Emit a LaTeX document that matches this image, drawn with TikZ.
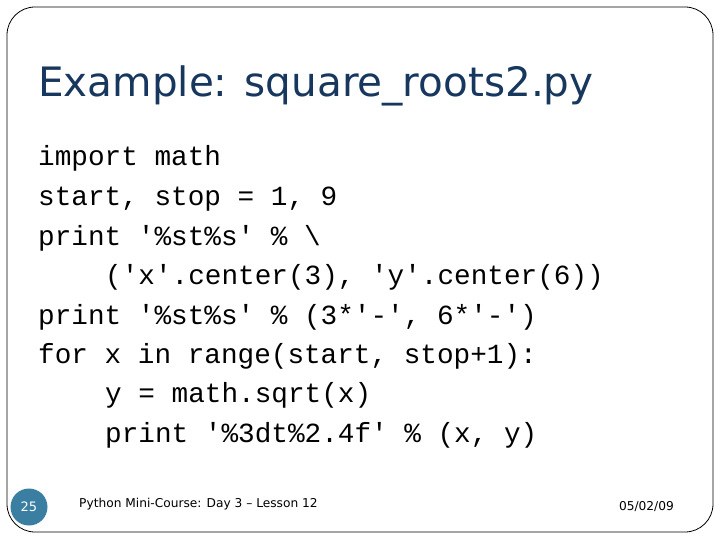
\documentclass[tikz,border=0pt]{standalone}
\usepackage{fontspec}
\setmainfont{DejaVu Sans}
\setmonofont{Liberation Mono}
\definecolor{navy}{HTML}{17375E}
\definecolor{dot}{HTML}{3A7FA2}
\begin{document}
\begin{tikzpicture}[x=1pt,y=-1pt,
  code/.style={anchor=base west,inner sep=0pt,font=\ttfamily\fontsize{27.7}{28}\selectfont},
  foot/.style={inner sep=0pt,font=\fontsize{12.2}{14}\selectfont}]
\useasboundingbox (0,0) rectangle (720,540);
\draw[line width=0.8pt, rounded corners=28pt] (7,7) rectangle (713,532);
\node[anchor=base west,inner sep=0pt,text=navy,font=\fontsize{40.5}{42}\selectfont] (title) at (38,97) {Example: square\_roots2.py};
\node[code] (l1) at (38,166) {import math};
\node[code] (l2) at (38,206) {start, stop = 1, 9};
\node[code] (l3) at (38,245) {print '\%st\%s' \% \textbackslash};
\node[code] (l4) at (105,284) {('x'.center(3), 'y'.center(6))};
\node[code] (l5) at (38,324) {print '\%st\%s' \% (3*'-', 6*'-')};
\node[code] (l6) at (38,363) {for x in range(start, stop+1):};
\node[code] (l7) at (105,402) {y = math.sqrt(x)};
\node[code] (l8) at (105,442) {print '\%3dt\%2.4f' \% (x, y)};
\node[circle,fill=dot,minimum size=37pt,inner sep=0pt,text=white,font=\fontsize{13}{14}\selectfont] (num) at (29,507) {25};
\node[foot,anchor=west] (ft) at (79,504) {Python Mini-Course: Day 3 – Lesson 12};
\node[foot,anchor=east] (date) at (674,507) {05/02/09};
\end{tikzpicture}
\end{document}
